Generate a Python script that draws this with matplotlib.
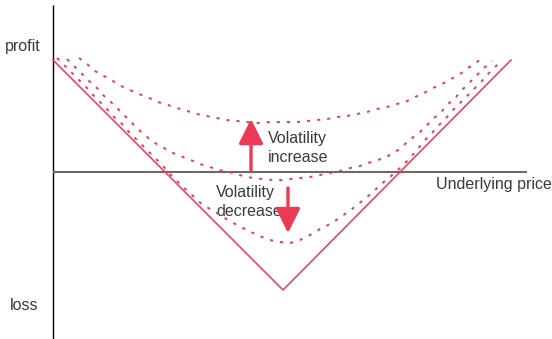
import matplotlib
matplotlib.use("Agg")
import matplotlib.pyplot as plt
from matplotlib.patches import FancyArrowPatch, ArrowStyle

# ---------------- data ----------------
# straddle payoff at expiry (price, profit/loss)
v_price = [0, 230, 458]
v_pl = [112, -118, 112]

# value before expiry, high volatility
high_price = [26, 34, 42, 51, 60, 68, 77, 86, 96, 105, 115, 124, 134, 144, 154, 164, 174, 184, 194, 204,
              217, 230, 244, 254, 264, 274, 284, 294, 304, 314, 324, 334, 344, 354, 362, 371, 380, 389, 398,
              407, 415, 424, 430]
high_pl = [114, 108, 101, 96, 91, 86, 82, 78, 74, 70, 67, 64, 61, 58, 56, 54, 52, 51, 50, 49,
           50, 50, 50, 51, 52, 53, 55, 56, 58, 60, 63, 65, 68, 71, 75, 79, 84, 88, 93,
           98, 104, 110, 115]

# value before expiry, current volatility
mid_price = [14, 22, 29, 36, 44, 50, 58, 65, 72, 79, 86, 94, 102, 111, 120, 130, 140, 150, 160, 170,
             180, 190, 200, 210, 220, 230, 247, 257, 267, 277, 287, 297, 307, 315, 325, 335, 345, 352,
             359, 367, 374, 381, 389, 395, 403, 410, 417, 424, 431, 439]
mid_pl = [113, 105, 98, 91, 84, 77, 70, 63, 56, 49, 42, 35, 29, 24, 19, 15, 11, 7, 4, 1,
          -1, -4, -6, -7, -8, -8, -6, -5, -3, -1, 1, 4, 6, 9, 12, 16, 22, 28,
          34, 40, 47, 54, 61, 68, 75, 83, 90, 97, 104, 111]

# value before expiry, low volatility
low_price = [4, 11, 19, 26, 33, 40, 47, 54, 61, 68, 75, 82, 89, 96, 103, 110, 117, 124, 130, 137,
             144, 150, 159, 167, 175, 184, 192, 200, 209, 217, 227, 237, 247, 257, 267, 279, 289, 299,
             309, 319, 327, 337, 347, 355, 364, 371, 379, 385, 393, 400, 407, 414, 421, 428, 435, 442, 449]
low_pl = [114, 107, 99, 92, 85, 77, 70, 63, 55, 49, 41, 34, 27, 20, 13, 6, -2, -9, -15, -21,
          -28, -33, -38, -43, -48, -53, -57, -61, -65, -68, -70, -71, -68, -63, -57, -51, -44, -37,
          -29, -21, -13, -5, 4, 12, 22, 31, 39, 46, 54, 62, 69, 76, 83, 90, 98, 105, 112]

label_profit = "profit"
label_loss = "loss"
label_x = "Underlying price"
label_up = "Volatility\nincrease"
label_down = "Volatility\ndecrease"

# ---------------- style ----------------
RED = "#ea3a55"
TXT = "#3a3a3a"
plt.rcParams["font.family"] = ["Liberation Sans", "DejaVu Sans"]

fig = plt.figure(figsize=(5.52, 3.39), dpi=100)
ax = fig.add_axes([0, 0, 1, 1])
ax.set_xlim(-53, 499)
ax.set_ylim(-167, 172)
ax.axis("off")

# axes lines
ax.plot([0, 0], [-167, 167], color="black", lw=1.0, solid_capstyle="butt", zorder=3)
ax.plot([0, 474], [0, 0], color="#6a6a6a", lw=1.5, solid_capstyle="butt", zorder=3)

# payoff
ax.plot(v_price, v_pl, color=RED, lw=1.1, zorder=4)
dash = (0, (1.6, 3.6))
for px, py in [(high_price, high_pl), (mid_price, mid_pl), (low_price, low_pl)]:
    ax.plot(px, py, color=RED, lw=1.4, linestyle=dash, dash_capstyle="butt", zorder=4)

# arrows
style = ArrowStyle("-|>", head_length=15, head_width=7.5)
ax.add_patch(FancyArrowPatch((198, 1), (198, 53), arrowstyle=style, mutation_scale=1,
                             color=RED, lw=2.4, shrinkA=0, shrinkB=0, zorder=5))
ax.add_patch(FancyArrowPatch((235, -16), (235, -61), arrowstyle=style, mutation_scale=1,
                             color=RED, lw=2.4, shrinkA=0, shrinkB=0, zorder=5))

# text
fs = 11.5
ax.text(-48, 125, label_profit, fontsize=fs, color=TXT, ha="left", va="center")
ax.text(-43, -134, label_loss, fontsize=fs, color=TXT, ha="left", va="center")
ax.text(383, -13, label_x, fontsize=fs, color=TXT, ha="left", va="center")
ax.text(215, 24, label_up, fontsize=fs, color=TXT, ha="left", va="center", linespacing=1.4)
ax.text(163, -30, label_down, fontsize=fs, color=TXT, ha="left", va="center", linespacing=1.4)

fig.savefig("out.png", dpi=100)
